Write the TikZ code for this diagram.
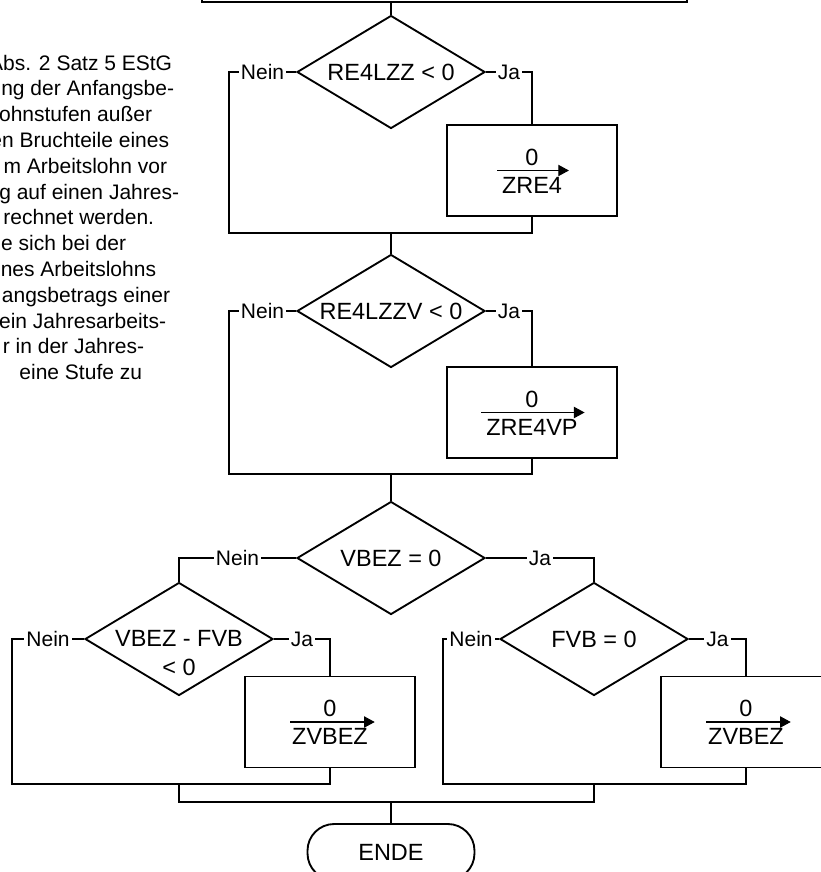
\documentclass[tikz,border=0pt]{standalone}
\usepackage{fontspec}
\setmainfont{Liberation Sans}
\usetikzlibrary{shapes.geometric, arrows.meta, calc}

\begin{document}
\begin{tikzpicture}[x=0.75pt, y=-0.75pt, line width=1.4pt,
    dec/.style={draw, diamond, aspect=1.66, inner sep=0pt,
        minimum width=141pt, minimum height=84.75pt, font=\fontsize{17.6}{21.75}\selectfont},
    proc/.style={draw, rectangle, minimum width=127.5pt, minimum height=68.25pt},
    term/.style={draw, rectangle, rounded corners=20pt, minimum width=125.25pt,
        minimum height=42pt, font=\fontsize{17.6}{21.75}\selectfont},
    txt/.style={inner sep=0pt, font=\fontsize{17.6}{21.75}\selectfont, align=center},
    lbl/.style={fill=white, inner sep=1.5pt, text depth=0pt, font=\fontsize{15.75}{19}\selectfont},
    note/.style={inner sep=0pt, font=\fontsize{15.75}{19.35}\selectfont},
    assign/.style={line width=0.8pt, -{Triangle[length=8pt, width=8.5pt]}}]
    \useasboundingbox (0,0) rectangle (821,872);
    \clip (0,0) rectangle (821,872);
    \fill[white] (0,0) rectangle (821,872);
    % text of the page, cut at the left
    \foreach \r/\t [count=\i from 0] in {173/Abs. 2 Satz 5 EStG, 175/ng der Anfangsbe-,
        153/ohnstufen außer, 170/en Bruchteile eines, 168/m Arbeitslohn vor,
        180/g auf einen Jahres-, 155/rechnet werden., 127/e sich bei der,
        157/nes Arbeitslohns, 171/angsbetrags einer, 167/ein Jahresarbeits-,
        145/r in der Jahres-, 143/eine Stufe zu}
        \node[note, anchor=base east] (note\i) at (\r, {70+25.8*\i}) {\t};
    % previous step, cut at the top
    \node[proc, minimum width=363.75pt, minimum height=45pt] (top) at (444.5,-28) {};
    % RE4LZZ
    \node[dec] (d1) at (391,72) {RE4LZZ < 0};
    \node[proc] (b1) at (532,170.5) {};
    \node[txt] (v1) at ($(b1.center)+(0,-13)$) {0};
    \node[txt] (z1) at ($(b1.center)+(0,15)$) {ZRE4};
    \draw[assign] ($(z1.west |- b1.center)+(-4,0)$) -- ($(z1.east |- b1.center)+(6,0)$);
    \coordinate (l1) at (229,233);
    \coordinate (m1) at (391,233);
    \draw (top.south -| d1.north) -- (d1.north);
    \draw (d1.west) -- node[lbl]{Nein} (d1.west -| l1) -- (l1) -| (b1.south);
    \draw (d1.east) -- node[lbl]{Ja} (d1.east -| b1.north) -- (b1.north);
    % RE4LZZV
    \node[dec] (d2) at (391,311) {RE4LZZV < 0};
    \node[proc] (b2) at (532,412.5) {};
    \node[txt] (v2) at ($(b2.center)+(0,-13)$) {0};
    \node[txt] (z2) at ($(b2.center)+(0,15)$) {ZRE4VP};
    \draw[assign] ($(z2.west |- b2.center)+(-4,0)$) -- ($(z2.east |- b2.center)+(6,0)$);
    \coordinate (l2) at (229,474);
    \coordinate (m2) at (391,474);
    \draw (m1) -- (d2.north);
    \draw (d2.west) -- node[lbl]{Nein} (d2.west -| l2) -- (l2) -| (b2.south);
    \draw (d2.east) -- node[lbl]{Ja} (d2.east -| b2.north) -- (b2.north);
    % VBEZ
    \node[dec] (d3) at (391,558) {VBEZ = 0};
    \draw (m2) -- (d3.north);
    \node[dec] (d4) at (179,639) {};
    \node[txt] (t4) at ($(d4.center)+(0,14.5)$) {VBEZ - FVB\\< 0};
    \node[dec] (d5) at (594,639) {FVB = 0};
    \draw (d3.west) -- node[lbl]{Nein} (d3.west -| d4.north) -- (d4.north);
    \draw (d3.east) -- node[lbl]{Ja} (d3.east -| d5.north) -- (d5.north);
    % VBEZ - FVB < 0
    \node[proc] (b4) at (330,722) {};
    \node[txt] (v4) at ($(b4.center)+(0,-14)$) {0};
    \node[txt] (z4) at ($(b4.center)+(0,14)$) {ZVBEZ};
    \draw[assign] ($(z4.west |- b4.center)+(-1,0)$) -- ($(z4.east |- b4.center)+(6,0)$);
    \coordinate (l4) at (12,784);
    \coordinate (j4) at (179,784);
    \draw (d4.west) -- node[lbl]{Nein} (d4.west -| l4) -- (l4) -| (b4.south);
    \draw (d4.east) -- node[lbl]{Ja} (d4.east -| b4.north) -- (b4.north);
    % FVB = 0
    \node[proc] (b5) at (746,722) {};
    \node[txt] (v5) at ($(b5.center)+(0,-14)$) {0};
    \node[txt] (z5) at ($(b5.center)+(0,14)$) {ZVBEZ};
    \draw[assign] ($(z5.west |- b5.center)+(-1,0)$) -- ($(z5.east |- b5.center)+(6,0)$);
    \coordinate (l5) at (443,784);
    \coordinate (j5) at (594,784);
    \draw (d5.west) -- node[lbl]{Nein} (d5.west -| l5) -- (l5) -| (b5.south);
    \draw (d5.east) -- node[lbl]{Ja} (d5.east -| b5.north) -- (b5.north);
    % end
    \coordinate (m6) at (391,802);
    \draw (j4) |- (m6) -| (j5);
    \node[term] (ende) at (391,852) {ENDE};
    \draw (m6) -- (ende.north);
\end{tikzpicture}
\end{document}
